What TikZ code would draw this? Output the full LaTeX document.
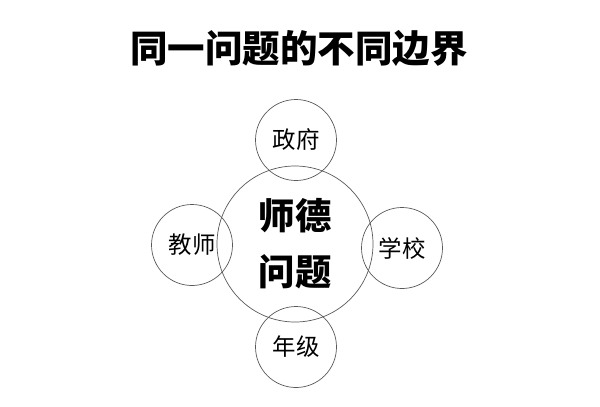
\documentclass[tikz,border=0pt]{standalone}
\usepackage{fontspec}
\newfontfamily\cjk{Noto Sans CJK SC}
\usepackage{tikz}
\usetikzlibrary{positioning}

\begin{document}
\begin{tikzpicture}[
    x=0.03cm, y=-0.03cm,
    big/.style={draw=black!65, circle, line width=0.6pt, minimum size=4.68cm, inner sep=0pt, align=center, font=\cjk\bfseries\fontsize{31}{48}\selectfont},
    side/.style={draw=black!65, circle, line width=0.6pt, minimum size=2.43cm, inner sep=0pt, font=\cjk\fontsize{20}{24}\selectfont},
    title/.style={font=\cjk\bfseries\fontsize{32}{38}\selectfont}
]
\useasboundingbox (0,0) rectangle (600,406);
\node (title) [title] at (299,48) {同一问题的不同边界};

\node (core) [big] at (295,244) {师德\\问题};
\node (gov) [side] at (296,140) {政府};
\node (teacher) [side] at (192,245) {教师};
\node (school) [side] at (402,248) {学校};
\node (grade) [side] at (296,347) {年级};
\end{tikzpicture}
\end{document}
